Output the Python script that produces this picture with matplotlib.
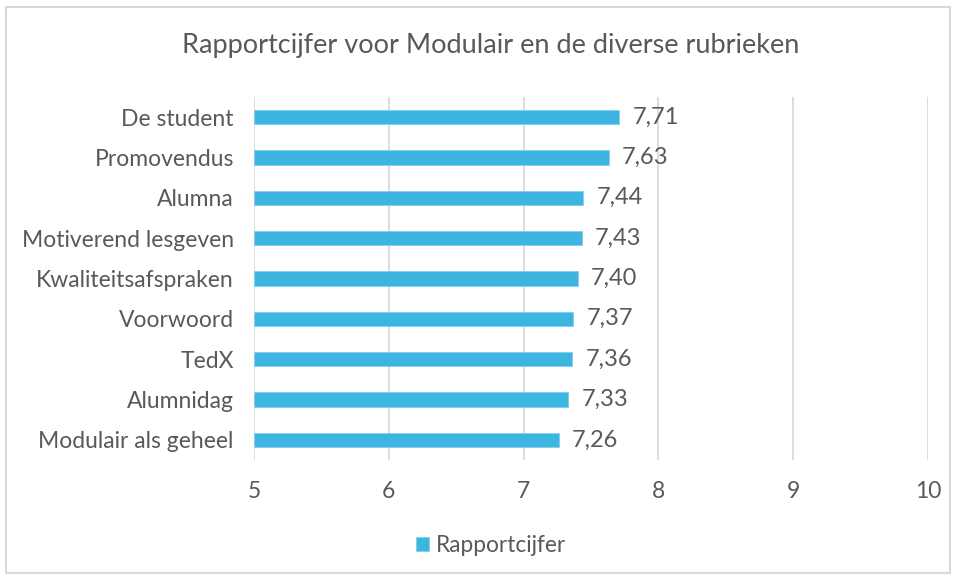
import matplotlib
matplotlib.use('Agg')
import matplotlib.pyplot as plt
from matplotlib.patches import Rectangle

# data
rubrieken = ['Modulair als geheel', 'Alumnidag', 'TedX', 'Voorwoord',
             'Kwaliteitsafspraken', 'Motiverend lesgeven', 'Alumna',
             'Promovendus', 'De student']
cijfers = [7.26, 7.33, 7.36, 7.37, 7.40, 7.43, 7.44, 7.63, 7.71]
xticks = [5, 6, 7, 8, 9, 10]

plt.rcParams['font.family'] = ['Lato', 'DejaVu Sans']
grey = '#595959'
blue = '#3CB6E0'

fig = plt.figure(figsize=(9.57, 5.79), dpi=100)
ax = fig.add_axes([0.2654, 0.2055, 0.7043, 0.627])

# light frame round the whole chart
fig.patches.append(Rectangle((6 / 957, 6 / 579), 944 / 957, 566 / 579,
                             transform=fig.transFigure, fill=False,
                             edgecolor='#D9D9D9', linewidth=1.5))

pos = list(range(len(rubrieken)))
bars = ax.barh(pos, [c - 5 for c in cijfers], left=5, height=0.36,
               color=blue, edgecolor='#7FD0EC', linewidth=0.6,
               label='Rapportcijfer', zorder=3)

for p, c in zip(pos, cijfers):
    ax.text(c + 0.1, p, ('%.2f' % c).replace('.', ','), va='center',
            ha='left', fontsize=17, color=grey, zorder=4)

ax.set_xlim(5, 10)
ax.set_ylim(-0.5, len(rubrieken) - 0.5)
ax.set_xticks(xticks)
ax.set_xticklabels([str(t) for t in xticks])
ax.set_yticks(pos)
ax.set_yticklabels(rubrieken)
ax.tick_params(axis='x', length=0, pad=15, labelsize=16.5, colors=grey)
ax.tick_params(axis='y', length=0, pad=14.5, labelsize=16.5, colors=grey)
ax.grid(axis='x', color='#D9D9D9', linewidth=1.3, zorder=0)
for s in ax.spines.values():
    s.set_visible(False)

fig.text(0.5128, 0.921, 'Rapportcijfer voor Modulair en de diverse rubrieken',
         ha='center', va='center', fontsize=19.5, color=grey)

fig.legend(handles=[bars], labels=['Rapportcijfer'], loc='center',
           bbox_to_anchor=(0.513, 0.058), frameon=False, fontsize=16.3,
           labelcolor=grey, handlelength=0.58, handleheight=0.58,
           handletextpad=0.3)

fig.savefig('out.png', dpi=100)
